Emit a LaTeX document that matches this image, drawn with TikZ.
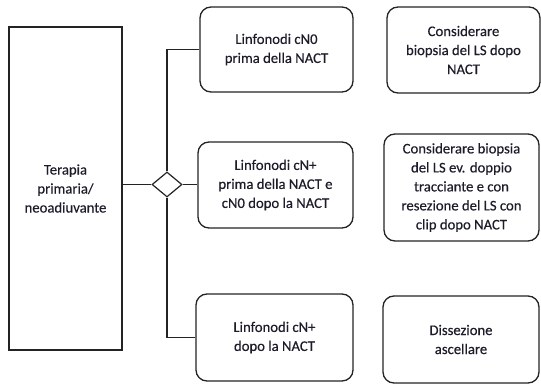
\documentclass[tikz,border=0pt]{standalone}
\usepackage{fontspec}
\setmainfont{Carlito}[FakeBold=0.0]
\newfontfamily\boxfont{Carlito}[FakeBold=0.35]
\usetikzlibrary{shapes.geometric}
\definecolor{txt}{RGB}{28,28,42}
\definecolor{edge}{RGB}{35,35,35}
\tikzset{
  box/.style={draw=edge, line width=1.3pt, rounded corners=11pt, align=center,
    text=txt, font=\boxfont\fontsize{14.7}{19}\selectfont, inner sep=2pt},
  plainbox/.style={box, rounded corners=0pt},
  link/.style={draw=edge, line width=1.2pt},
}
\begin{document}
\begin{tikzpicture}[x=1pt,y=-1pt]
\useasboundingbox (0,0) rectangle (541,387);
% starting therapy
\node[plainbox, minimum width=113pt, minimum height=323pt] (start) at (65.5,188.5)
  {Terapia\\primaria/\\neoadiuvante};
% decision point
\node[diamond, draw=edge, line width=1.2pt, minimum width=30pt, minimum height=25pt, inner sep=0pt] (dec) at (167,184.5) {};
% nodal status
\node[box, minimum width=153pt, minimum height=85pt] (m1) at (276.5,49.5)
  {Linfonodi cN0\\prima della NACT};
\node[box, minimum width=155pt, minimum height=86pt] (m2) at (275.5,185)
  {Linfonodi cN+\\prima della NACT e\\cN0 dopo la NACT};
\node[box, minimum width=157pt, minimum height=87pt] (m3) at (274.5,337.5)
  {Linfonodi cN+\\dopo la NACT};
% recommended approach
\node[box, minimum width=153pt, minimum height=86pt] (r1) at (463.5,50)
  {Considerare\\biopsia del LS dopo\\NACT};
\node[box, minimum width=155pt, minimum height=107pt] (r2) at (461.5,187.5)
  {Considerare biopsia\\del LS ev. doppio\\tracciante e con\\resezione del LS con\\clip dopo NACT};
\node[box, minimum width=156pt, minimum height=87pt] (r3) at (461,339.5)
  {Dissezione\\ascellare};
% connectors
\draw[link] (start.east |- dec.west) -- (dec.west);
\draw[link] (dec.east) -- (dec.east -| m2.west);
\draw[link] (dec.north) |- (m1.west);
\draw[link] (dec.south) |- (m3.west);
\end{tikzpicture}
\end{document}
